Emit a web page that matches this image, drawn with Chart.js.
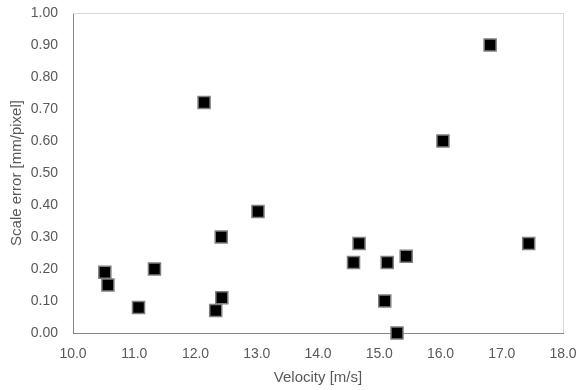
<!DOCTYPE html>
<html>
<head>
<meta charset="utf-8">
<script src="https://cdn.jsdelivr.net/npm/chart.js@4"></script>
<style>
  html, body { margin: 0; padding: 0; background: #fff; }
  #wrap { width: 579px; height: 390px; }
</style>
</head>
<body>
<div id="wrap"><canvas id="scaleChart" width="579" height="390"></canvas></div>
<script>
// --- Data ---
const velocity = [10.52, 10.57, 11.07, 11.33, 12.14, 12.33, 12.42, 12.43, 13.02,
                  14.58, 14.67, 15.09, 15.13, 15.29, 15.44, 16.04, 16.81, 17.44];
const scaleError = [0.19, 0.15, 0.08, 0.20, 0.72, 0.07, 0.30, 0.11, 0.38,
                    0.22, 0.28, 0.10, 0.22, 0.00, 0.24, 0.60, 0.90, 0.28];

const X_MIN = 10, X_MAX = 18, X_STEP = 1;
const Y_MIN = 0, Y_MAX = 1, Y_STEP = 0.1;

const TEXT = "#595959";
const TICK_FONT = { family: "'Liberation Sans', Arial, sans-serif", size: 14 };
const TITLE_FONT = { family: "'Liberation Sans', Arial, sans-serif", size: 15 };

// --- Light frame on the top and right of the plot area ---
const plotFrame = {
  id: "plotFrame",
  beforeDatasetsDraw(chart) {
    const { ctx, chartArea: a } = chart;
    ctx.save();
    ctx.strokeStyle = "#d9d9d9";
    ctx.lineWidth = 1;
    ctx.beginPath();
    ctx.moveTo(a.left, a.top + 0.5);
    ctx.lineTo(a.right + 0.5, a.top + 0.5);
    ctx.lineTo(a.right + 0.5, a.bottom);
    ctx.stroke();
    ctx.restore();
  }
};

new Chart(document.getElementById("scaleChart"), {
  type: "scatter",
  data: {
    datasets: [{
      label: "Scale error",
      data: velocity.map((v, i) => ({ x: v, y: scaleError[i] })),
      pointStyle: "rect",
      pointRadius: 8.5,
      pointHoverRadius: 8.5,
      backgroundColor: "#000000",
      borderColor: "#7f7f7f",
      borderWidth: 1.5,
      clip: false
    }]
  },
  options: {
    responsive: false,
    animation: false,
    layout: { padding: { left: 0, right: 16, top: 13, bottom: 0 } },
    plugins: {
      legend: { display: false },
      tooltip: { enabled: false }
    },
    scales: {
      x: {
        type: "linear",
        min: X_MIN,
        max: X_MAX,
        afterFit(scale) {
          scale.height = 57;
          scale.paddingLeft = 0;
          scale.paddingRight = 0;
        },
        grid: { display: false, drawTicks: false },
        border: { display: true, color: "#868686", width: 1 },
        ticks: {
          stepSize: X_STEP,
          color: TEXT,
          font: TICK_FONT,
          padding: 13,
          callback: v => v.toFixed(1)
        },
        title: {
          display: true,
          text: "Velocity [m/s]",
          color: TEXT,
          font: TITLE_FONT,
          padding: { top: 0, bottom: 3 }
        }
      },
      y: {
        type: "linear",
        min: Y_MIN,
        max: Y_MAX,
        afterFit(scale) {
          scale.width = 73;
          scale.paddingTop = 0;
          scale.paddingBottom = 0;
        },
        grid: { display: false, drawTicks: false },
        border: { display: true, color: "#868686", width: 1 },
        ticks: {
          stepSize: Y_STEP,
          color: TEXT,
          font: TICK_FONT,
          padding: 15,
          callback: v => v.toFixed(2)
        },
        title: {
          display: true,
          text: "Scale error [mm/pixel]",
          color: TEXT,
          font: TITLE_FONT,
          padding: { top: 8, bottom: 0 }
        }
      }
    }
  },
  plugins: [plotFrame]
});
</script>
</body>
</html>
